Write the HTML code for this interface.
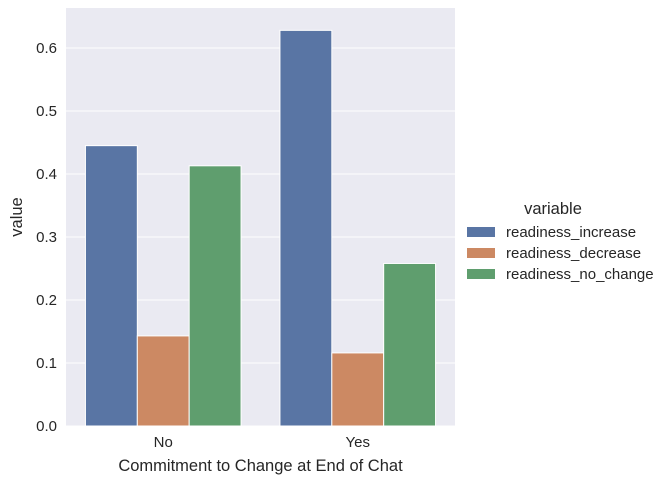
<!DOCTYPE html>
<html><head><meta charset="utf-8"><style>
body{margin:0;background:#fff;font-family:"Liberation Sans",sans-serif}
svg text{font-family:"Liberation Sans",sans-serif;fill:#262626}
</style></head><body>
<svg id="c" width="669" height="483"></svg>
<script>
const categories=["No","Yes"];
const seriesNames=["readiness_increase","readiness_decrease","readiness_no_change"];
const increaseVals=[0.445,0.628];
const decreaseVals=[0.143,0.116];
const noChangeVals=[0.413,0.258];
const yTicks=[0,0.1,0.2,0.3,0.4,0.5,0.6];
const colors=["#5975a4","#cc8963","#5f9e6e"];
const series=[increaseVals,decreaseVals,noChangeVals];
const L=66,R=455,T=8,B=426;
const y0=426,yPer=630;
const ys=v=>y0-v*yPer;
const xs=i=>L+(R-L)*(i+0.5)/categories.length;
const svg=document.getElementById('c');
const NS="http://www.w3.org/2000/svg";
function mk(t,a,p){const e=document.createElementNS(NS,t);for(const k in a)e.setAttribute(k,a[k]);(p||svg).appendChild(e);return e;}
const bg=mk('rect',{x:L,y:T,width:R-L,height:B-T,fill:'#eaeaf2'});


yTicks.forEach(v=>{
 const g=mk('line',{x1:L,x2:R,y1:ys(v),y2:ys(v),stroke:'#fff','stroke-width':1});
 
 
 const t=mk('text',{x:L-9,y:ys(v)+5,'text-anchor':'end','font-size':15});
 t.textContent=v.toFixed(1);
 
 
});
const bw=(R-L)/categories.length*0.8/3;
categories.forEach((c,i)=>{
 series.forEach((s,j)=>{
  const x=xs(i)-1.5*bw+j*bw;
  const r=mk('rect',{x:x,y:ys(s[i]),width:bw,height:ys(0)-ys(s[i]),fill:colors[j],stroke:'#fff','stroke-width':1});
  
  
 });
 const t=mk('text',{x:xs(i),y:447,'text-anchor':'middle','font-size':15});
 t.textContent=c;
 
 
});
const xt=mk('text',{x:(L+R)/2,y:471,'text-anchor':'middle','font-size':16.5});
xt.textContent="Commitment to Change at End of Chat";


const yt=mk('text',{x:0,y:0,'text-anchor':'middle','font-size':16.5,transform:'translate(22,'+((T+B)/2)+') rotate(-90)'});
yt.textContent="value";


const lt=mk('text',{x:553,y:214,'text-anchor':'middle','font-size':16.5});
lt.textContent="variable";


seriesNames.forEach((n,j)=>{
 const yy=232+j*21;
 const r=mk('rect',{x:467,y:yy-5,width:28,height:10,fill:colors[j]});
 
 
 const t=mk('text',{x:506,y:yy+5,'font-size':15});
 t.textContent=n;
 
 
});
</script>
</body></html>
